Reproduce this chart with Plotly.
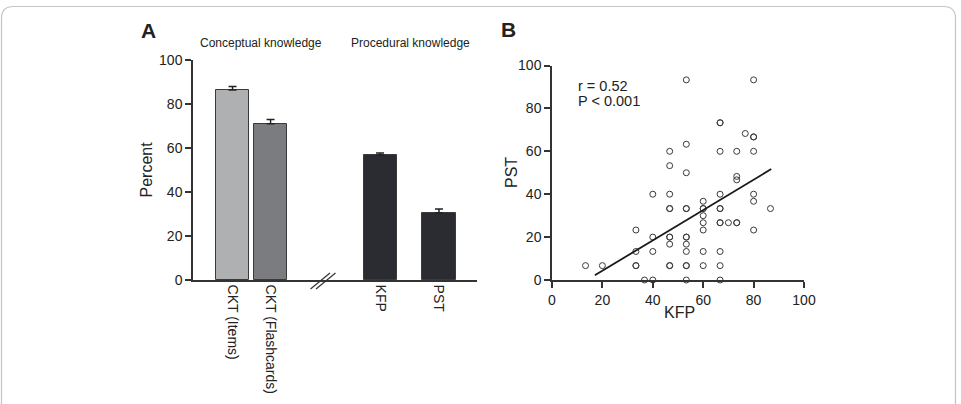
import plotly.graph_objects as go

W, H = 961, 404

# ---- Panel A data ----
bar_labels = ["CKT (Items)", "CKT (Flashcards)", "KFP", "PST"]
bar_pos = [1.0, 2.0, 4.88, 6.43]
bar_values = [86.4, 71.0, 56.7, 30.6]
bar_errors = [1.6, 2.0, 1.0, 1.7]
bar_colors = ["#aeb0b2", "#7b7c80", "#2b2c31", "#2b2c31"]
y_ticks = [0, 20, 40, 60, 80, 100]

# ---- Panel B data ----
kfp = [13.3, 20,
       33.3, 33.3, 33.3, 33.3,
       36.7,
       40, 40, 40, 40,
       46.7, 46.7, 46.7, 46.7, 46.7, 46.7, 46.7, 46.7, 46.7, 46.7,
       53.3, 53.3, 53.3, 53.3, 53.3, 53.3, 53.3, 53.3, 53.3, 53.3, 53.3, 53.3,
       60, 60, 60, 60, 60, 60, 60, 60,
       66.7, 66.7, 66.7, 66.7, 66.7, 66.7, 66.7, 66.7, 66.7, 66.7, 66.7,
       70,
       73.3, 73.3, 73.3, 73.3, 73.3,
       76.7,
       80, 80, 80, 80, 80, 80, 80,
       86.7]
pst = [6.7, 6.7,
       23.3, 13.3, 6.7, 6.7,
       0,
       40, 20, 13.3, 0,
       60, 53.3, 40, 33.3, 33.3, 20, 20, 16.7, 6.7, 6.7,
       93.3, 63.3, 50, 33.3, 33.3, 20, 20, 16.7, 13.3, 6.7, 6.7, 0,
       36.7, 33.3, 33.3, 30, 26.7, 23.3, 13.3, 6.7,
       73.3, 73.3, 60, 40, 33.3, 33.3, 26.7, 26.7, 13.3, 6.7, 0,
       26.7,
       60, 48.3, 46.7, 26.7, 26.7,
       68.3,
       93.3, 66.7, 66.7, 60, 40, 36.7, 23.3,
       33.3]
fit_x = [17.0, 87.0]
fit_y = [2.2, 51.7]
xb_ticks = [0, 20, 40, 60, 80, 100]

FONT = "Liberation Sans, Arial, Helvetica, sans-serif"
TXT = "#222222"
AX = "#333333"

fig = go.Figure()

fig.add_trace(go.Bar(
    x=bar_pos, y=bar_values, width=0.87,
    marker=dict(color=bar_colors, line=dict(color="#3a3a3a", width=1)),
    error_y=dict(type="data", symmetric=False, array=bar_errors,
                 arrayminus=[0] * len(bar_errors),
                 color="#222222", thickness=1.5, width=4),
    xaxis="x", yaxis="y", showlegend=False, hoverinfo="skip"))

fig.add_trace(go.Scatter(
    x=kfp, y=pst, mode="markers", cliponaxis=False,
    marker=dict(symbol="circle-open", size=6, color="#3a3a3a",
                line=dict(width=1, color="#3a3a3a")),
    xaxis="x2", yaxis="y2", showlegend=False, hoverinfo="skip"))

fig.add_trace(go.Scatter(
    x=fit_x, y=fit_y, mode="lines",
    line=dict(color="#1a1a1a", width=1.8),
    xaxis="x2", yaxis="y2", showlegend=False, hoverinfo="skip"))

def px(x):
    return x / W

def py(y):
    return 1 - y / H

axis_common = dict(showgrid=False, zeroline=False, showline=True,
                   linecolor=AX, linewidth=1.5, automargin=False,
                   tickfont=dict(family=FONT, size=14, color=TXT))

fig.update_layout(
    width=W, height=H,
    margin=dict(l=0, r=0, t=0, b=0),
    paper_bgcolor="white", plot_bgcolor="white",
    font=dict(family=FONT, color=TXT),
    bargap=0,
    xaxis=dict(domain=[px(193), px(477)], range=[-0.04, 7.43],
               tickmode="array", tickvals=bar_pos, ticktext=bar_labels,
               tickangle=90, ticks="", anchor="y", fixedrange=True,
               **axis_common),
    yaxis=dict(domain=[py(280), py(60)], range=[0, 100],
               tickmode="array", tickvals=y_ticks,
               ticks="outside", ticklen=6, tickwidth=1.5, tickcolor=AX,
               anchor="x", **axis_common),
    xaxis2=dict(domain=[px(552), px(804)], range=[0, 100],
                tickmode="array", tickvals=xb_ticks,
                ticks="outside", ticklen=6, tickwidth=1.5, tickcolor=AX,
                anchor="y2", **axis_common),
    yaxis2=dict(domain=[py(280), py(65.5)], range=[0, 100],
                tickmode="array", tickvals=y_ticks,
                ticks="outside", ticklen=6, tickwidth=1.5, tickcolor=AX,
                anchor="x2", **axis_common),
)

def ann(text, x, y, size, bold=False, angle=0, xanchor="center"):
    fig.add_annotation(
        text=f"<b>{text}</b>" if bold else text,
        x=px(x), y=py(y), xref="paper", yref="paper",
        xanchor=xanchor, yanchor="middle", showarrow=False,
        textangle=angle, font=dict(family=FONT, size=size, color=TXT))

ann("A", 148, 31, 21, bold=True)
ann("B", 508, 30, 21, bold=True)
ann("Conceptual knowledge", 261, 43, 12)
ann("Procedural knowledge", 410, 43, 12)
ann("Percent", 146.5, 170, 16, angle=-90)
ann("PST", 512, 173, 16, angle=-90)
ann("KFP", 679, 312.5, 16)
ann("r = 0.52", 576, 86, 14.5, xanchor="left")
ann("P < 0.001", 576, 101, 14.5, xanchor="left")

# axis break marks "//"
for (xa, ya, xb, yb) in [(310.5, 289, 330, 273), (316, 289, 335.5, 273)]:
    fig.add_shape(type="line", xref="paper", yref="paper",
                  x0=px(xa), y0=py(ya), x1=px(xb), y1=py(yb),
                  line=dict(color=AX, width=1.2))

# rounded frame
r = 12
x0, x1, yt, yb = 1.5, 955.5, 6.5, 420
path = (f"M {px(x0)},{py(yb)} L {px(x0)},{py(yt + r)} "
        f"Q {px(x0)},{py(yt)} {px(x0 + r)},{py(yt)} "
        f"L {px(x1 - r)},{py(yt)} "
        f"Q {px(x1)},{py(yt)} {px(x1)},{py(yt + r)} "
        f"L {px(x1)},{py(yb)}")
fig.add_shape(type="path", xref="paper", yref="paper", path=path,
              line=dict(color="#c4c4c4", width=1.2))

fig.write_html("out.html")
